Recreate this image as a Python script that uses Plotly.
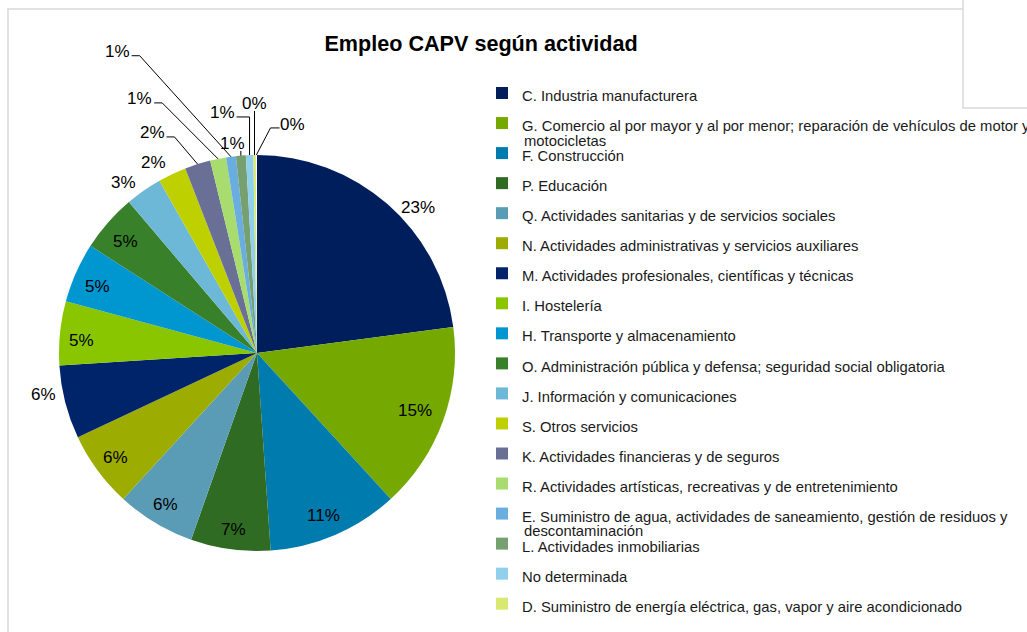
import math
import plotly.graph_objects as go

# data (share of employment, %)
CATEGORIES = [
    "C. Industria manufacturera",
    "G. Comercio al por mayor y al por menor; reparación de vehículos de motor y<br>motocicletas",
    "F. Construcción",
    "P. Educación",
    "Q. Actividades sanitarias y de servicios sociales",
    "N. Actividades administrativas y servicios auxiliares",
    "M. Actividades profesionales, científicas y técnicas",
    "I. Hostelería",
    "H. Transporte y almacenamiento",
    "O. Administración pública y defensa; seguridad social obligatoria",
    "J. Información y comunicaciones",
    "S. Otros servicios",
    "K. Actividades financieras y de seguros",
    "R. Actividades artísticas, recreativas y de entretenimiento",
    "E. Suministro de agua, actividades de saneamiento, gestión de residuos y<br>descontaminación",
    "L. Actividades inmobiliarias",
    "No determinada",
    "D. Suministro de energía eléctrica, gas, vapor y aire acondicionado",
    "B. Industrias extractivas",
]
VALUES = [22.9, 15.3, 10.7, 6.5, 6.4, 6.2, 6.0, 5.2, 4.9, 4.7,
          3.0, 2.3, 2.1, 1.3, 0.8, 0.8, 0.6, 0.2, 0.1]
# last slice is too thin to see and its legend entry falls below the visible area
COLORS = [
    "#001e5c", "#75a800", "#007bae", "#2f6b22", "#5a9cb6", "#9cac00",
    "#002469", "#8ac600", "#0096d0", "#38802a", "#6cb8d6", "#bfd000",
    "#6a7095", "#a8dc6e", "#6aaee0", "#76a070", "#90d0ec", "#d8e870",
    "rgba(0,0,0,0)",
]

# label placement: (angle offset from slice middle in deg, radius factor, leader type)
LABEL_PLACE = [
    (6.8, 1.096, None), (0, 0.85, None), (1, 0.885, None), (0, 0.90, None),
    (0, 0.895, None), (0, 0.89, None), (3.3, 1.10, None), (-1.6, 0.89, None),
    (-1.2, 0.875, None), (-0.9, 0.87, None), (-3.2, 1.094, None),
    (-3.3, 1.094, None), (-8, 1.231, "right"), (-13.4, 1.413, "right"),
    (-17.3, 1.677, "right"), (-1.9, 1.063, "below"), (-6.1, 1.225, "elbow"),
    (0.2, 1.258, "below"), (9.1, 1.166, "left"),
]

W, H = 1027, 632
CX, CY, R = 257, 353, 198
FONT = "Arial, Liberation Sans, sans-serif"
LABEL_FS = 17
LEGEND_FS = 14.8


def paper(px, py):
    return px / W, 1 - py / H


fig = go.Figure()

legend_names = []
extra_lines = []
for i, name in enumerate(CATEGORIES):
    first, _, rest = name.partition("<br>")
    # the last entry sits under the bottom edge; keep it small so none of it shows
    fs = LEGEND_FS if i < len(CATEGORIES) - 1 else 8
    legend_names.append(f"<span style='font-size:{fs}px'>{first}</span>")
    if rest:
        extra_lines.append((i, rest))

x0, y0 = paper(CX - R, CY + R)
x1, y1 = paper(CX + R, CY - R)
fig.add_trace(go.Pie(
    labels=legend_names,
    values=VALUES,
    sort=False,
    direction="clockwise",
    rotation=0,
    marker=dict(colors=COLORS, line=dict(width=0)),
    textinfo="none",
    hoverinfo="skip",
    domain=dict(x=[x0, x1], y=[y0, y1]),
))

annotations = []
shapes = []
total = sum(VALUES)
cum = 0
for i, v in enumerate(VALUES):
    mid = 360 * (cum + v / 2) / total
    cum += v
    dth, rf, leader = LABEL_PLACE[i]
    a = math.radians(mid + dth)
    tx = CX + rf * R * math.sin(a)
    ty = CY - rf * R * math.cos(a)
    pct = int(100 * v / total + 0.5)
    txt = f"{pct}%"
    ax, ay = paper(tx, ty)
    annotations.append(dict(x=ax, y=ay, xref="paper", yref="paper", text=txt,
                            showarrow=False, xanchor="center", yanchor="middle",
                            font=dict(family=FONT, size=LABEL_FS, color="#000000")))
    if leader is None:
        continue
    m = math.radians(mid)
    rx = CX + R * math.sin(m)
    ry = CY - R * math.cos(m)
    half = (0.556 * len(str(pct)) + 0.889) * LABEL_FS / 2
    if leader == "right":
        pts = [(tx + half + 2, ty + 4), (tx + half + 10, ty + 4), (rx, ry)]
    elif leader == "elbow":
        pts = [(tx + half + 2, ty + 4), (rx, ty + 4), (rx, ry)]
    elif leader == "left":
        pts = [(tx - half - 1, ty + 3), (tx - half - 10, ty + 3), (rx, ry)]
    else:
        pts = [(rx, ty + 7), (rx, ry)]
    path = "M " + " L ".join("{:.5f},{:.5f}".format(*paper(px, py)) for px, py in pts)
    shapes.append(dict(type="path", path=path, xref="paper", yref="paper",
                       line=dict(color="#000000", width=1), layer="above"))

# second lines of wrapped legend entries
for i, rest in extra_lines:
    lx, ly = paper(522, 95 + 30 * i + 16)
    annotations.append(dict(x=lx, y=ly, xref="paper", yref="paper", text=rest,
                            showarrow=False, xanchor="left", yanchor="middle",
                            font=dict(family=FONT, size=LEGEND_FS, color="#1a1a1a")))

# chart frame and the box covering the top right corner
fx0, fy0 = paper(8, 9)
shapes.append(dict(type="rect", xref="paper", yref="paper", x0=fx0, y0=fy0,
                   x1=1.05, y1=-0.05, line=dict(color="#d9d9d9", width=1.5),
                   layer="below"))
bx0, by0 = paper(963, 108)
shapes.append(dict(type="rect", xref="paper", yref="paper", x0=bx0, y0=by0,
                   x1=1.05, y1=1.05, fillcolor="#ffffff",
                   line=dict(color="#d9d9d9", width=1.5), layer="above"))

tx_, ty_ = paper(481, 43)
lgx, lgy = paper(482, 73)
fig.update_layout(
    width=W, height=H,
    margin=dict(l=0, r=0, t=0, b=0, autoexpand=False),
    paper_bgcolor="#ffffff",
    title=dict(text="<b>Empleo CAPV según actividad</b>", x=tx_, y=ty_,
               xanchor="center", yanchor="middle",
               font=dict(family=FONT, size=21.6, color="#000000")),
    legend=dict(x=lgx, y=lgy, xanchor="left", yanchor="top",
                bgcolor="rgba(0,0,0,0)", traceorder="normal",
                font=dict(family=FONT, size=20.8, color="#1a1a1a")),
    annotations=annotations,
    shapes=shapes,
)

# page body has a default 8px margin; drop it so the figure sits at the corner
fig.write_html("out.html", config={"displayModeBar": False},
               post_script="document.body.style.margin='0px';")
